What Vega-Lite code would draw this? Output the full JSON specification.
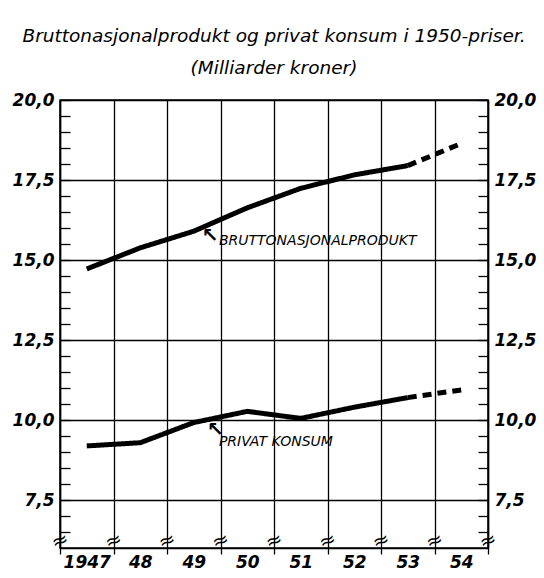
{
  "$schema": "https://vega.github.io/schema/vega-lite/v6.json",
  "width": 428,
  "height": 448,
  "autosize": {"type": "none"},
  "padding": {"left": 60, "top": 100, "right": 56, "bottom": 30},
  "background": "white",
  "config": {
    "view": {"stroke": "black", "strokeWidth": 1.5},
    "font": "DejaVu Sans"
  },
  "title": {
    "text": ["Bruttonasjonalprodukt og privat konsum i 1950-priser.", "(Milliarder kroner)"],
    "anchor": "middle",
    "frame": "group",
    "font": "DejaVu Sans",
    "fontStyle": "italic",
    "fontWeight": "normal",
    "fontSize": 18.5,
    "lineHeight": 32,
    "offset": 14,
    "color": "black"
  },
  "datasets": {
    "series": [
      {"series": "BNP", "part": "actual", "year": 1947.5, "value": 14.72},
      {"series": "BNP", "part": "actual", "year": 1948.5, "value": 15.38},
      {"series": "BNP", "part": "actual", "year": 1949.5, "value": 15.9},
      {"series": "BNP", "part": "actual", "year": 1950.5, "value": 16.63},
      {"series": "BNP", "part": "actual", "year": 1951.5, "value": 17.24},
      {"series": "BNP", "part": "actual", "year": 1952.5, "value": 17.66},
      {"series": "BNP", "part": "actual", "year": 1953.5, "value": 17.95},
      {"series": "BNP", "part": "estimate", "year": 1953.5, "value": 17.95},
      {"series": "BNP", "part": "estimate", "year": 1954.5, "value": 18.64},
      {"series": "PK", "part": "actual", "year": 1947.5, "value": 9.19},
      {"series": "PK", "part": "actual", "year": 1948.5, "value": 9.29},
      {"series": "PK", "part": "actual", "year": 1949.5, "value": 9.92},
      {"series": "PK", "part": "actual", "year": 1950.5, "value": 10.27},
      {"series": "PK", "part": "actual", "year": 1951.5, "value": 10.05},
      {"series": "PK", "part": "actual", "year": 1952.5, "value": 10.4},
      {"series": "PK", "part": "actual", "year": 1953.5, "value": 10.7},
      {"series": "PK", "part": "estimate", "year": 1953.5, "value": 10.7},
      {"series": "PK", "part": "estimate", "year": 1954.5, "value": 10.94}
    ],
    "notes": [
      {"label": "BRUTTONASJONALPRODUKT", "year": 1949.97, "value": 15.48},
      {"label": "PRIVAT KONSUM", "year": 1949.97, "value": 9.2}
    ],
    "arrows": [
      {"label": "↖", "year": 1949.8, "value": 15.75},
      {"label": "↖", "year": 1949.9, "value": 9.69}
    ],
    "breaks": [
      {"label": "≈", "year": 1947, "value": 6.22},
      {"label": "≈", "year": 1948, "value": 6.22},
      {"label": "≈", "year": 1949, "value": 6.22},
      {"label": "≈", "year": 1950, "value": 6.22},
      {"label": "≈", "year": 1951, "value": 6.22},
      {"label": "≈", "year": 1952, "value": 6.22},
      {"label": "≈", "year": 1953, "value": 6.22},
      {"label": "≈", "year": 1954, "value": 6.22},
      {"label": "≈", "year": 1955, "value": 6.22}
    ]
  },
  "layer": [
    {
      "data": {"name": "series"},
      "mark": {"type": "line", "color": "black", "strokeWidth": 5, "strokeCap": "butt", "strokeJoin": "round"},
      "encoding": {
        "x": {
          "field": "year", "type": "quantitative",
          "scale": {"domain": [1947, 1955], "nice": false, "zero": false},
          "axis": {
            "title": null,
            "values": [1947, 1947.5, 1948, 1948.5, 1949, 1949.5, 1950, 1950.5, 1951, 1951.5, 1952, 1952.5, 1953, 1953.5, 1954, 1954.5, 1955],
            "grid": true,
            "gridColor": "black",
            "gridWidth": 1.3,
            "gridOpacity": {"condition": {"test": "datum.value % 1 === 0", "value": 1}, "value": 0},
            "tickColor": "black",
            "tickWidth": 1.3,
            "tickSize": {"condition": {"test": "datum.value % 1 === 0", "value": 6}, "value": 0},
            "domainColor": "black",
            "domainWidth": 1.5,
            "labelExpr": "datum.value % 1 === 0.5 ? (datum.value === 1947.5 ? '1947' : substring(toString(floor(datum.value)), 2, 4)) : ''",
            "labelFont": "DejaVu Sans",
            "labelFontStyle": "italic",
            "labelFontWeight": "bold",
            "labelFontSize": 17,
            "labelColor": "black",
            "labelPadding": 6,
            "labelFlush": false,
            "labelOverlap": false
          }
        },
        "y": {
          "field": "value", "type": "quantitative",
          "scale": {"domain": [6, 20], "nice": false, "zero": false},
          "axis": {
            "title": null,
            "orient": "left",
            "values": [6.5, 7, 7.5, 8, 8.5, 9, 9.5, 10, 10.5, 11, 11.5, 12, 12.5, 13, 13.5, 14, 14.5, 15, 15.5, 16, 16.5, 17, 17.5, 18, 18.5, 19, 19.5, 20],
            "grid": true,
            "gridColor": "black",
            "gridWidth": 1.3,
            "gridOpacity": {"condition": {"test": "datum.value % 2.5 === 0", "value": 1}, "value": 0},
            "tickColor": "black",
            "tickWidth": 1.3,
            "tickSize": -10,
            "domainColor": "black",
            "domainWidth": 1.5,
            "labelExpr": "datum.value % 2.5 === 0 ? replace(format(datum.value, '.1f'), '.', ',') : ''",
            "labelFont": "DejaVu Sans",
            "labelFontStyle": "italic",
            "labelFontWeight": "bold",
            "labelFontSize": 17,
            "labelColor": "black",
            "labelPadding": 16,
            "labelOverlap": false,
            "labelFlush": false
          }
        },
        "detail": {"field": "series"},
        "strokeDash": {
          "field": "part", "type": "nominal",
          "scale": {"domain": ["actual", "estimate"], "range": [[1, 0], [9, 6]]},
          "legend": null
        }
      }
    },
    {
      "data": {"name": "notes"},
      "mark": {"type": "text", "align": "left", "baseline": "alphabetic", "font": "DejaVu Sans", "fontStyle": "italic", "fontSize": 14, "color": "black"},
      "encoding": {
        "x": {"field": "year", "type": "quantitative", "axis": null},
        "y": {
          "field": "value", "type": "quantitative",
          "axis": {
            "title": null,
            "orient": "right",
            "values": [6.5, 7, 7.5, 8, 8.5, 9, 9.5, 10, 10.5, 11, 11.5, 12, 12.5, 13, 13.5, 14, 14.5, 15, 15.5, 16, 16.5, 17, 17.5, 18, 18.5, 19, 19.5, 20],
            "grid": false,
            "tickColor": "black",
            "tickWidth": 1.3,
            "tickSize": -10,
            "domainColor": "black",
            "domainWidth": 1.5,
            "labelExpr": "datum.value % 2.5 === 0 ? replace(format(datum.value, '.1f'), '.', ',') : ''",
            "labelFont": "DejaVu Sans",
            "labelFontStyle": "italic",
            "labelFontWeight": "bold",
            "labelFontSize": 17,
            "labelColor": "black",
            "labelPadding": 16,
            "labelOverlap": false,
            "labelFlush": false
          }
        },
        "text": {"field": "label"}
      }
    },
    {
      "data": {"name": "arrows"},
      "mark": {"type": "text", "align": "center", "baseline": "middle", "font": "DejaVu Sans", "fontSize": 20, "fontWeight": "bold", "color": "black"},
      "encoding": {
        "x": {"field": "year", "type": "quantitative", "axis": null},
        "y": {"field": "value", "type": "quantitative", "axis": null},
        "text": {"field": "label"}
      }
    },
    {
      "data": {"name": "breaks"},
      "mark": {"type": "text", "align": "center", "baseline": "middle", "font": "DejaVu Sans", "fontSize": 20, "angle": 340, "color": "black"},
      "encoding": {
        "x": {"field": "year", "type": "quantitative", "axis": null},
        "y": {"field": "value", "type": "quantitative", "axis": null},
        "text": {"field": "label"}
      }
    }
  ],
  "resolve": {"axis": {"x": "independent", "y": "independent"}}
}
